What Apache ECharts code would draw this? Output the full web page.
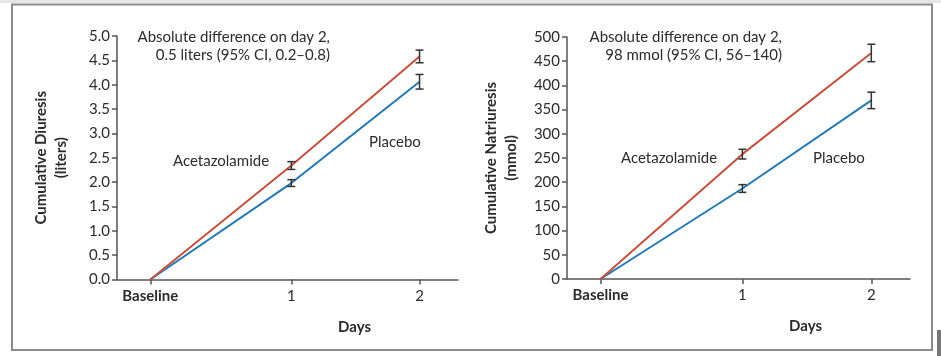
<!DOCTYPE html>
<html>
<head>
<meta charset="utf-8">
<script src="https://cdn.jsdelivr.net/npm/echarts@6/dist/echarts.min.js"></script>
<style>
html,body{margin:0;padding:0;background:#fff;}
#chart{width:941px;height:356px;}
</style>
</head>
<body>
<div id="chart"></div>
<script>
// ---- data ----
const dayPositions = [-0.1, 1, 2];           // Baseline, day 1, day 2
const dayLabels = ['Baseline', '1', '2'];

const diuresisAceta = [0, 2.34, 4.58];
const diuresisAcetaErr = [0, 0.08, 0.13];
const diuresisPlacebo = [0, 1.98, 4.06];
const diuresisPlaceboErr = [0, 0.07, 0.15];

const natriAceta = [0, 258, 467];
const natriAcetaErr = [0, 10, 18];
const natriPlacebo = [0, 187, 369];
const natriPlaceboErr = [0, 8, 17];

const diuresisTicks = [0, 0.5, 1.0, 1.5, 2.0, 2.5, 3.0, 3.5, 4.0, 4.5, 5.0];
const natriTicks = [0, 50, 100, 150, 200, 250, 300, 350, 400, 450, 500];

// ---- styles ----
const FONT = 'Lato';
const RED = '#c4503e';
const BLUE = '#2479b3';
const AXIS = '#555';
const TXT = '#2b2b2b';

function pts(vals) { return vals.map((v, i) => [dayPositions[i], v]); }
function errs(vals, e) {
  const out = [];
  vals.forEach((v, i) => { if (e[i] > 0) out.push([dayPositions[i], v - e[i], v + e[i]]); });
  return out;
}
function errRender(params, api) {
  const x = api.value(0);
  const lo = api.coord([x, api.value(1)]);
  const hi = api.coord([x, api.value(2)]);
  const w = 4;
  const st = { stroke: '#333', lineWidth: 1.5 };
  return {
    type: 'group',
    children: [
      { type: 'line', shape: { x1: lo[0], y1: lo[1], x2: hi[0], y2: hi[1] }, style: st },
      { type: 'line', shape: { x1: lo[0] - w, y1: lo[1], x2: lo[0] + w, y2: lo[1] }, style: st },
      { type: 'line', shape: { x1: hi[0] - w, y1: hi[1], x2: hi[0] + w, y2: hi[1] }, style: st }
    ]
  };
}

function xAxis(gridIndex) {
  return {
    type: 'value', gridIndex, min: -0.36, max: 2.3,
    splitLine: { show: false },
    axisLine: { onZero: false, lineStyle: { color: AXIS, width: 1.5 } },
    axisTick: { customValues: dayPositions, length: 5, lineStyle: { color: AXIS, width: 1.5 } },
    axisLabel: {
      customValues: dayPositions, margin: 9,
      fontFamily: FONT, fontSize: 15, color: TXT,
      formatter: v => {
        const i = dayPositions.findIndex(p => Math.abs(p - v) < 1e-6);
        if (i < 0) return '';
        return i === 0 ? '{b|' + dayLabels[i] + '}' : dayLabels[i];
      },
      rich: { b: { fontFamily: FONT, fontSize: 15, fontWeight: 'bold', color: TXT } }
    },
    name: 'Days', nameLocation: 'middle', nameGap: 40,
    nameTextStyle: { fontFamily: FONT, fontSize: 15, fontWeight: 'bold', color: TXT, padding: [0, 0, 0, 134] }
  };
}
function yAxis(gridIndex, max, interval, dec, name) {
  return {
    type: 'value', gridIndex, min: 0, max, interval,
    splitLine: { show: false },
    axisLine: { show: true, onZero: false, lineStyle: { color: AXIS, width: 1.5 } },
    axisTick: { show: true, length: 5, lineStyle: { color: AXIS, width: 1.5 } },
    axisLabel: { margin: 7, fontFamily: FONT, fontSize: 15, color: TXT,
      formatter: v => v.toFixed(dec) },
    name, nameLocation: 'middle', nameGap: 46, nameRotate: 90,
    nameTextStyle: { fontFamily: FONT, fontSize: 15, fontWeight: 'bold', color: TXT, lineHeight: 20, align: 'center' }
  };
}

const lineSeries = (name, data, color, idx) => ({
  type: 'line', name, xAxisIndex: idx, yAxisIndex: idx, data,
  symbol: 'none', lineStyle: { color, width: 2 }, z: 3, animation: false
});
const errSeries = (data, idx) => ({
  type: 'custom', xAxisIndex: idx, yAxisIndex: idx, data, renderItem: errRender, z: 5, animation: false
});

const txt = (text, x, y, align) => ({
  type: 'text', x, y, z: 10,
  style: { text, fill: TXT, font: '15px ' + FONT, textAlign: align, textVerticalAlign: 'middle' }
});

const chart = echarts.init(document.getElementById('chart'), null, { renderer: 'canvas' });
chart.setOption({
  backgroundColor: '#fff',
  animation: false,
  grid: [
    { left: 117, width: 341, top: 36, bottom: 76.5 },
    { left: 567, right: 31, top: 37, bottom: 77 }
  ],
  xAxis: [xAxis(0), xAxis(1)],
  yAxis: [
    yAxis(0, 5, 0.5, 1, 'Cumulative Diuresis\n(liters)'),
    yAxis(1, 500, 50, 0, 'Cumulative Natriuresis\n(mmol)')
  ],
  series: [
    lineSeries('Placebo', pts(diuresisPlacebo), BLUE, 0),
    lineSeries('Acetazolamide', pts(diuresisAceta), RED, 0),
    errSeries(errs(diuresisAceta, diuresisAcetaErr), 0),
    errSeries(errs(diuresisPlacebo, diuresisPlaceboErr), 0),
    lineSeries('Placebo', pts(natriPlacebo), BLUE, 1),
    lineSeries('Acetazolamide', pts(natriAceta), RED, 1),
    errSeries(errs(natriAceta, natriAcetaErr), 1),
    errSeries(errs(natriPlacebo, natriPlaceboErr), 1)
  ],
  graphic: [
    { type: 'rect', shape: { x: 0, y: 0, width: 941, height: 3 }, style: { fill: '#e6e6e6' }, z: 0 },
    { type: 'rect', shape: { x: 12, y: 4.5, width: 920, height: 345.5 }, style: { fill: 'none', stroke: '#8a8a8a', lineWidth: 2 }, z: 0 },
    { type: 'rect', shape: { x: 937, y: 330, width: 4, height: 26 }, style: { fill: '#777' }, z: 0 },
    txt('Absolute difference on day 2,', 330, 37, 'right'),
    txt('0.5 liters (95% CI, 0.2\u20130.8)', 330, 55, 'right'),
    txt('Acetazolamide', 173, 161, 'left'),
    txt('Placebo', 369, 142, 'left'),
    txt('Absolute difference on day 2,', 782, 37, 'right'),
    txt('98 mmol (95% CI, 56\u2013140)', 782, 55, 'right'),
    txt('Acetazolamide', 621, 158, 'left'),
    txt('Placebo', 813, 158, 'left')
  ]
});
</script>
</body>
</html>
